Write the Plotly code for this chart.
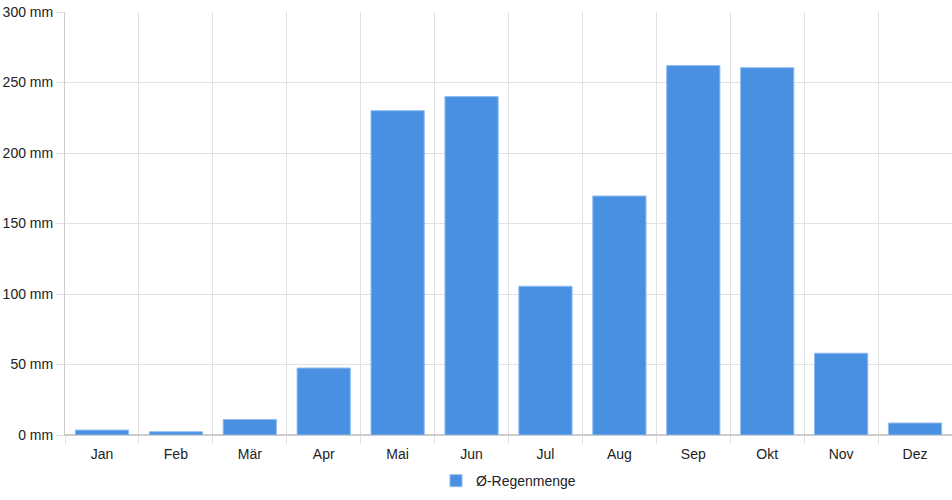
import plotly.graph_objects as go

# Monatsnamen und mittlere Regenmenge (mm)
monate = ['Jan', 'Feb', 'Mär', 'Apr', 'Mai', 'Jun', 'Jul', 'Aug', 'Sep', 'Okt', 'Nov', 'Dez']
regen_mm = [3.5, 2.3, 11, 47.5, 230, 240, 105.5, 169.5, 262, 260.5, 58, 8.5]
y_ticks = [0, 50, 100, 150, 200, 250, 300]
y_labels = [f'{v} mm' for v in y_ticks]

grid_col = '#e1e1e1'

fig = go.Figure()
fig.add_trace(go.Bar(
    x=monate,
    y=regen_mm,
    name='Ø-Regenmenge',
    marker=dict(color='#4a90e2', line=dict(color='#8fbcf0', width=1)),
    width=0.72,
))

fig.update_layout(
    width=952, height=500,
    margin=dict(l=65, r=0, t=12, b=65),
    plot_bgcolor='white', paper_bgcolor='white',
    font=dict(family='Liberation Sans, Arial, sans-serif', size=14, color='#222'),
    showlegend=True,
    legend=dict(orientation='h', x=0.5, xanchor='center', y=-0.109, yanchor='middle',
                font=dict(size=14)),
)
fig.update_xaxes(
    tickson='boundaries', showgrid=True, gridcolor=grid_col, gridwidth=1,
    ticks='outside', ticklen=8, tickcolor=grid_col, ticklabelstandoff=6,
    showline=True, linecolor='#cccccc', linewidth=1,
    range=[-0.5, 11.5],
)
fig.update_yaxes(
    range=[0, 300], tickvals=y_ticks, ticktext=y_labels,
    showgrid=True, gridcolor=grid_col, gridwidth=1,
    ticks='outside', ticklen=8, tickcolor=grid_col,
    zeroline=True, zerolinecolor='#cccccc',
    showline=True, linecolor='#cccccc', linewidth=1,
)

fig.write_html("out.html", config={'displayModeBar': False},
               post_script="document.body.style.margin='0';")
